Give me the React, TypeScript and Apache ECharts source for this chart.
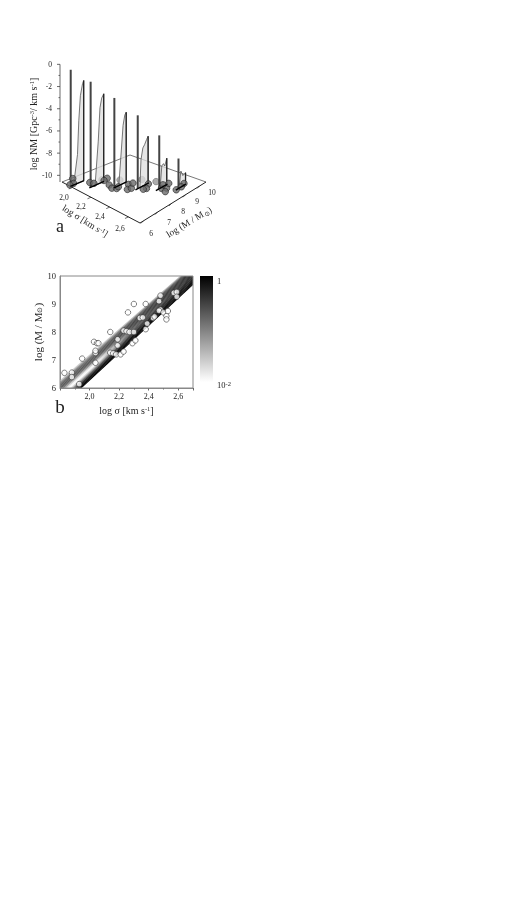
import React, { useEffect, useRef } from "react";
import * as echarts from "echarts";

// ---------- Panel a: 3D slices ----------
const sliceSigma = [1.98, 2.09, 2.22, 2.36, 2.49, 2.61];
const baseStartMass = [5.76, 6.36, 7.24, 7.83, 8.42, 9.05];
const baseEndMass = [6.7, 7.38, 8.11, 8.77, 9.24, 9.76];
const spikeMass = [5.78, 6.45, 7.26, 7.99, 8.66, 9.24];
const spikeLogNM = [-0.1, -1.08, -2.5, -4.0, -5.8, -7.9];
const curveMass = [
  [5.98, 6.25, 6.34, 6.45, 6.6, 6.68],
  [6.76, 6.98, 7.1, 7.22, 7.33, 7.36],
  [7.57, 7.75, 7.87, 7.99, 8.09],
  [8.14, 8.22, 8.35, 8.47, 8.61, 8.72],
  [8.72, 8.84, 8.96, 9.05, 9.19],
  [9.28, 9.41, 9.55, 9.64, 9.74],
];
const curveLogNM = [
  [-10.6, -8, -5, -2.8, -1.8, -1.55],
  [-10.6, -6.74, -3.8, -3.0, -2.76, -2.7],
  [-10.6, -7.5, -5.35, -4.5, -4.3],
  [-10.6, -8.14, -7.18, -6.97, -6.6, -6.37],
  [-10.6, -8.68, -8.56, -8.83, -8.23],
  [-10.6, -9.16, -9.67, -9.6, -9.55],
];
const floorDotSigma = [1.9, 1.96, 1.96, 2.03, 2.06, 2.07, 2.08, 2.16, 2.21, 2.24, 2.23, 2.26, 2.31, 2.32, 2.27, 2.37, 2.41, 2.4, 2.5, 2.53, 2.49, 2.47, 2.56, 2.61, 2.59, 2.61];
const floorDotMass = [6.44, 6.11, 5.85, 6.78, 6.87, 7.73, 7.45, 7.29, 7.15, 7.29, 7.48, 8.0, 7.59, 7.8, 8.24, 8.67, 8.28, 8.12, 8.75, 8.92, 9.33, 9.05, 8.63, 9.08, 9.76, 9.44];
const hiddenDotSigma = [2.06, 2.16, 2.28, 2.39];
const hiddenDotMass = [7.43, 8.04, 8.8, 9.08];
const zTicks = [0, -2, -4, -6, -8, -10];
const zMinor = [-1, -3, -5, -7, -9];
const sigmaTicks3d = [2.0, 2.2, 2.4, 2.6];
const massTicks3d = [6, 7, 8, 9, 10];

// ---------- Panel b ----------
const pointSigma = [1.83, 1.88, 1.88, 1.93, 1.95, 2.03, 2.05, 2.06, 2.04, 2.04, 2.04, 2.14, 2.14, 2.16, 2.18, 2.21, 2.23, 2.19, 2.19, 2.23, 2.25, 2.27, 2.3, 2.26, 2.3, 2.29, 2.31, 2.34, 2.36, 2.38, 2.39, 2.38, 2.43, 2.44, 2.47, 2.48, 2.48, 2.47, 2.5, 2.52, 2.52, 2.53, 2.57, 2.59, 2.59];
const pointMass = [6.54, 6.55, 6.39, 6.14, 7.05, 7.65, 7.6, 7.6, 7.25, 7.33, 6.9, 8.0, 7.26, 7.24, 7.2, 7.2, 7.3, 7.74, 7.52, 8.05, 8.03, 8.0, 8.0, 8.7, 9.0, 7.6, 7.7, 8.5, 8.52, 9.0, 8.3, 8.1, 8.5, 8.55, 9.1, 9.3, 8.8, 8.76, 8.7, 8.57, 8.45, 8.75, 9.4, 9.43, 9.26];
const bandSigma = [1.8, 2.7];
const bandUpper = [6.28, 10.4];
const bandLower = [5.28, 9.68];
const bandStopSigma = [1.8, 2.05, 2.3, 2.7];
const bandGray = [
  [205, 155, 120, 100, 90, 95, 120, 160, 210, 245, 255, 225, 165, 105, 55, 22, 5, 0],
  [205, 155, 120, 100, 88, 88, 108, 145, 200, 240, 250, 210, 155, 95, 50, 20, 5, 0],
  [190, 130, 95, 78, 68, 68, 72, 80, 92, 96, 88, 72, 55, 38, 22, 12, 4, 0],
  [180, 115, 78, 60, 50, 46, 46, 42, 42, 38, 38, 34, 28, 24, 18, 12, 4, 0],
];
const colorbarStops = ["#000000", "#555555", "#aaaaaa", "#ffffff"];

const SERIF = "'Liberation Serif', 'Times New Roman', serif";

// Perspective floor corners of panel a
const cL = [62, 182], cF = [140, 223], cB = [130, 155], cR = [206, 182];
const sMin = 1.89, sMax = 2.723, mMin = 5.76, mMax = 10.46, zFloor = -10.6, zPx = 11.1;

function project(s: number, m: number, z: number = zFloor): number[] {
  const u = (s - sMin) / (sMax - sMin);
  const v = (m - mMin) / (mMax - mMin);
  const f = (i: number) =>
    (1 - u) * (1 - v) * cL[i] + u * (1 - v) * cF[i] + (1 - u) * v * cB[i] + u * v * cR[i];
  return [f(0), f(1) - (z - zFloor) * zPx];
}
const gray = (g: number) => `rgb(${g},${g},${g})`;

export default function App() {
  const ref = useRef<HTMLDivElement>(null);
  useEffect(() => {
    document.body.style.margin = "0";
    const chart = echarts.init(ref.current!, undefined, { renderer: "svg" });

    const segments: number[][] = [];
    zTicks.forEach((z) => {
      const y = project(sMin, mMin, z)[1];
      segments.push([57, y, 60, y]);
    });
    zMinor.forEach((z) => {
      const y = project(sMin, mMin, z)[1];
      segments.push([58.5, y, 60, y]);
    });
    segments.push([60, project(sMin, mMin, 0)[1], 60, 182]);
    for (const s of sigmaTicks3d) {
      const a = project(s, mMin);
      segments.push([a[0], a[1], a[0] - 3.5, a[1] + 1.5]);
    }
    for (const m of massTicks3d) {
      const a = project(sMax, m);
      segments.push([a[0], a[1], a[0] - 2.5, a[1] + 2.5]);
    }

    const sliceIdx = sliceSigma.map((_, i) => [i]);
    const seriesGrid = { xAxisIndex: 0, yAxisIndex: 0 };

    const bandItem = (params: any, api: any) => {
      const i = params.dataIndex;
      const n = bandGray[0].length;
      const t0 = i / n, t1 = (i + 1.25) / n;
      const e = (k: number, t: number) => bandUpper[k] + (bandLower[k] - bandUpper[k]) * t;
      const pts = [
        api.coord([bandSigma[0], e(0, t0)]),
        api.coord([bandSigma[1], e(1, t0)]),
        api.coord([bandSigma[1], e(1, Math.min(t1, 1))]),
        api.coord([bandSigma[0], e(0, Math.min(t1, 1))]),
      ];
      const stops = bandStopSigma.map((s, k) => ({
        offset: (s - bandSigma[0]) / (bandSigma[1] - bandSigma[0]),
        color: gray(bandGray[k][i]),
      }));
      return {
        type: "polygon",
        shape: { points: pts },
        style: { fill: new echarts.graphic.LinearGradient(0, 0, 1, 0, stops) },
      };
    };

    const superRich = {
      s: { fontSize: 6.5, verticalAlign: "top", fontFamily: SERIF, fill: "#222", color: "#222", padding: [0, 0, 4, 0] },
      u: { fontSize: 6.5, fontFamily: SERIF, color: "#222", fill: "#222", padding: [4, 0, 0, 0] },
    };
    const txt = (text: string, x: number, y: number, fontSize: number, rotation = 0, align = "center") => ({
      type: "text",
      x,
      y,
      rotation: (rotation * Math.PI) / 180,
      style: {
        text,
        fontSize,
        fontFamily: SERIF,
        fill: "#222",
        align,
        verticalAlign: "middle",
        rich: superRich,
      },
      z: 20,
    });

    const graphic: any[] = [];
    zTicks.forEach((z) => {
      graphic.push(txt(String(z), 52, project(sMin, mMin, z)[1], 7.5, 0, "right"));
    });
    const sigmaLabelPos = [[64, 197], [81, 206], [100, 216], [120, 228]];
    sigmaTicks3d.forEach((s, i) => {
      graphic.push(txt(s.toFixed(1).replace(".", ","), sigmaLabelPos[i][0], sigmaLabelPos[i][1], 7.5));
    });
    const massLabelPos = [[151, 233], [169, 222], [183, 211], [197, 201], [212, 192]];
    massTicks3d.forEach((m, i) => {
      graphic.push(txt(String(m), massLabelPos[i][0], massLabelPos[i][1], 7.5));
    });
    graphic.push(txt("log NM [Gpc{s|-3}/ km s{s|-1}]", 33, 124, 10, 90));
    graphic.push(txt("log σ [km s{s|-1}]", 85, 221, 9.5, -32));
    graphic.push(txt("log (M / M{u|⊙})", 189, 222, 9.5, 31));
    graphic.push(txt("a", 60, 226, 18));
    graphic.push(txt("b", 60, 406, 19));
    graphic.push({
      type: "rect",
      shape: { x: 200, y: 276, width: 13, height: 106 },
      style: {
        fill: new echarts.graphic.LinearGradient(
          0, 0, 0, 1,
          colorbarStops.map((c, i) => ({ offset: i / (colorbarStops.length - 1), color: c })),
        ),
      },
    });
    graphic.push(txt("1", 217, 281, 8.5, 0, "left"));
    graphic.push(txt("10{s|-2}", 217, 385, 8.5, 0, "left"));

    chart.setOption({
      animation: false,
      backgroundColor: "#fff",
      grid: [
        { left: 0, top: 0, width: 525, height: 907, show: false },
        { left: 60, top: 276, width: 133, height: 112, show: true, borderColor: "#888", borderWidth: 1, z: 5 },
      ],
      xAxis: [
        { type: "value", gridIndex: 0, min: 0, max: 525, show: false },
        {
          type: "value", gridIndex: 1, min: 1.8, max: 2.7, interval: 0.2,
          splitLine: { show: false },
          axisLine: { lineStyle: { color: "#888" } },
          axisTick: { show: true, length: 2.5, lineStyle: { color: "#666" } },
          minorTick: { show: true, splitNumber: 2, length: 1.5, lineStyle: { color: "#666" } },
          axisLabel: {
            fontFamily: SERIF, fontSize: 8, color: "#222", margin: 4,
            showMaxLabel: false, showMinLabel: false,
            formatter: (v: number) => v.toFixed(1).replace(".", ","),
          },
          name: "log σ [km s{s|-1}]", nameLocation: "middle", nameGap: 17,
          nameTextStyle: { fontFamily: SERIF, fontSize: 10, color: "#222", rich: superRich },
        },
      ],
      yAxis: [
        { type: "value", gridIndex: 0, min: 0, max: 907, inverse: true, show: false },
        {
          type: "value", gridIndex: 1, min: 6, max: 10, interval: 1,
          splitLine: { show: false },
          axisLine: { lineStyle: { color: "#888" } },
          axisTick: { show: false },
          axisLabel: { fontFamily: SERIF, fontSize: 8.5, color: "#222", margin: 4 },
          name: "log (M / M{u|⊙})", nameLocation: "middle", nameGap: 17,
          nameTextStyle: { fontFamily: SERIF, fontSize: 11, color: "#222", rich: superRich },
        },
      ],
      graphic,
      series: [
        {
          type: "line", ...seriesGrid, symbol: "none", z: 2,
          lineStyle: { color: "#555", width: 0.8 },
          data: [project(sMin, mMin), project(sMin, mMax), project(sMax, mMax)],
        },
        {
          type: "line", ...seriesGrid, symbol: "none", z: 3,
          lineStyle: { color: "#222", width: 1 },
          data: [project(sMin, mMin), project(sMax, mMin), project(sMax, mMax)],
        },
        {
          type: "custom", ...seriesGrid, z: 3, data: segments,
          renderItem: (_p: any, api: any) => {
            const a = api.coord([api.value(0), api.value(1)]);
            const b = api.coord([api.value(2), api.value(3)]);
            return {
              type: "line",
              shape: { x1: a[0], y1: a[1], x2: b[0], y2: b[1] },
              style: { stroke: "#444", lineWidth: 0.8 },
            };
          },
        },
        {
          type: "scatter", ...seriesGrid, z: 3, symbolSize: 6.5,
          itemStyle: { color: "#999", borderColor: "#666", borderWidth: 0.7 },
          data: hiddenDotSigma.map((s, i) => project(s, hiddenDotMass[i])),
        },
        {
          type: "custom", ...seriesGrid, z: 4, data: sliceIdx,
          renderItem: (p: any, api: any) => {
            const i = p.dataIndex;
            const s = sliceSigma[i];
            const curve = curveMass[i].map((m, k) => project(s, m, curveLogNM[i][k]));
            const end = curveMass[i][curveMass[i].length - 1];
            const poly = [
              project(s, curveMass[i][0]),
              ...curve,
              project(s, end),
            ].map((q) => api.coord(q));
            const spikeBase = api.coord(project(s, spikeMass[i]));
            const spikeTop = api.coord(project(s, spikeMass[i], spikeLogNM[i]));
            return {
              type: "group",
              children: [
                {
                  type: "polygon",
                  shape: { points: poly },
                  style: { fill: "rgba(222,222,222,0.75)", stroke: "#555", lineWidth: 0.8 },
                },
                {
                  type: "line",
                  shape: { x1: poly[poly.length - 2][0], y1: poly[poly.length - 2][1], x2: poly[poly.length - 1][0], y2: poly[poly.length - 1][1] },
                  style: { stroke: "#222", lineWidth: 1.3 },
                },
                {
                  type: "line",
                  shape: { x1: spikeBase[0], y1: spikeBase[1], x2: spikeTop[0], y2: spikeTop[1] },
                  style: { stroke: "#444", lineWidth: 2 },
                },
              ],
            };
          },
        },
        {
          type: "scatter", ...seriesGrid, z: 5, symbolSize: 6.5,
          itemStyle: { color: "#6a6a6a", borderColor: "#222", borderWidth: 0.8 },
          data: floorDotSigma.map((s, i) => project(s, floorDotMass[i])),
        },
        {
          type: "custom", ...seriesGrid, z: 6, data: sliceIdx,
          renderItem: (p: any, api: any) => {
            const i = p.dataIndex;
            const a = api.coord(project(sliceSigma[i], baseStartMass[i]));
            const b = api.coord(project(sliceSigma[i], baseEndMass[i]));
            return {
              type: "line",
              shape: { x1: a[0], y1: a[1], x2: b[0], y2: b[1] },
              style: { stroke: "#000", lineWidth: 1.4 },
            };
          },
        },
        {
          type: "custom", xAxisIndex: 1, yAxisIndex: 1, z: 2, clip: true,
          data: bandGray[0].map((_, i) => [i]),
          renderItem: bandItem,
        },
        {
          type: "scatter", xAxisIndex: 1, yAxisIndex: 1, z: 4, symbolSize: 5.5,
          itemStyle: { color: "#fff", borderColor: "#222", borderWidth: 0.7 },
          data: pointSigma.map((s, i) => [s, pointMass[i]]),
        },
      ],
    });
    return () => chart.dispose();
  }, []);
  return (
    <div
      ref={ref}
      style={{ position: "absolute", left: 0, top: 0, width: 525, height: 907, filter: "blur(0.55px)" }}
    />
  );
}
